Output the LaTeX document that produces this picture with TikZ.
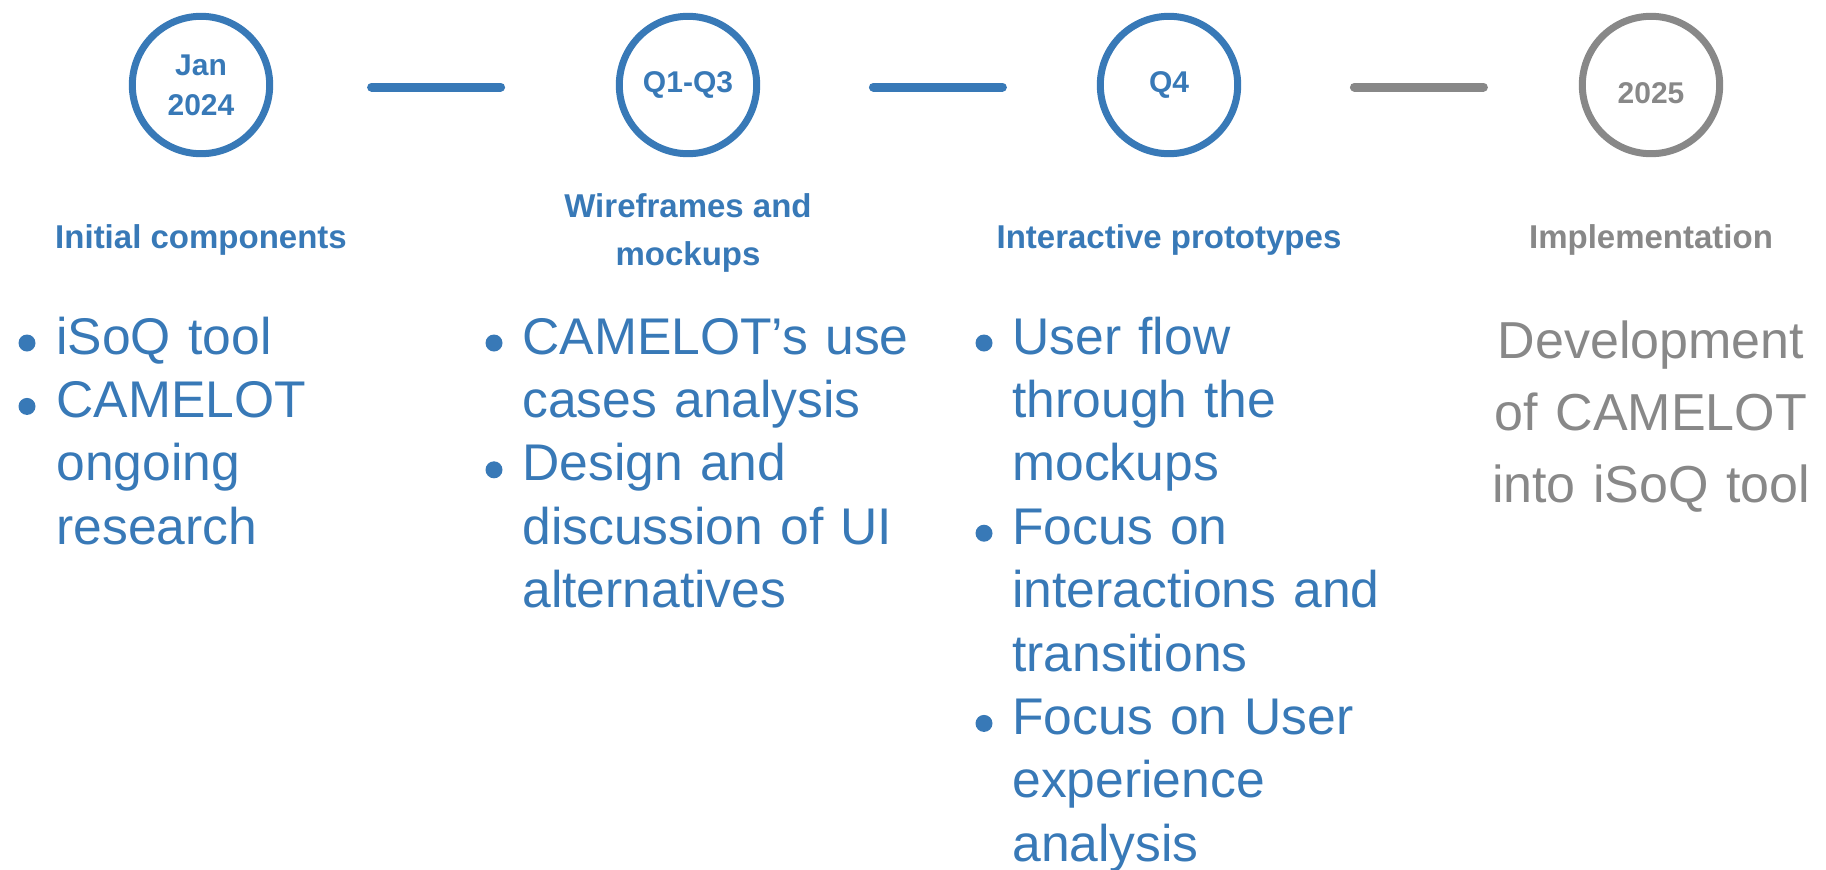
\documentclass[tikz,border=0pt]{standalone}
\usepackage{fontspec}
\setmainfont{Liberation Sans}
\definecolor{planblue}{RGB}{56,121,183}
\definecolor{plangray}{RGB}{136,136,136}

\begin{document}
\begin{tikzpicture}[x=0.5pt, y=-0.5pt,
    milestone/.style={circle, draw=#1, line width=3.5pt, minimum size=68.7pt, inner sep=0pt,
      text=#1, font=\fontsize{15}{20}\selectfont\bfseries, align=center},
    link/.style={draw=#1, line width=4.5pt, line cap=round, transform canvas={yshift=-1pt}},
    phase/.style={text=#1, font=\fontsize{16.5}{24}\selectfont\bfseries, align=center, inner sep=0pt},
    item/.style={anchor=base west, inner sep=0pt, text width=200pt, align=left,
      text=planblue, font=\fontsize{25.8}{31.7}\selectfont},
    dot/.style={circle, fill=planblue, minimum size=8.5pt, inner sep=0pt}]
  \useasboundingbox (0,0) rectangle (1826,869);

  % Milestones on the time line
  \node[milestone=planblue] (jan) at (201,85) {Jan\\2024};
  \node[milestone=planblue] (qone) at (688,85) {Q1-Q3};
  \node[milestone=planblue] (qfour) at (1169,85) {Q4};
  \node[milestone=plangray] (next) at (1651,85) {\raisebox{-9.4pt}[0pt][0pt]{2025}};

  % Links between milestones
  \draw[link=planblue, shorten <=49.2pt, shorten >=57.6pt] (jan) -- (qone);
  \draw[link=planblue, shorten <=56.6pt, shorten >=47.2pt] (qone) -- (qfour);
  \draw[link=plangray, shorten <=56.6pt, shorten >=47.7pt] (qfour) -- (next);

  % Phase titles
  \node[phase=planblue] (tinit) at (201,239.5) {Initial components};
  \node[phase=planblue] (twire) at (688,232.5) {Wireframes and\\mockups};
  \node[phase=planblue] (tproto) at (1169,239.5) {Interactive prototypes};
  \node[phase=plangray] (timpl) at (1651,239.5) {Implementation};

  % Bullet items
  \node[item] (ia) at (56,354) {iSoQ tool};
  \node[item] (ib) at (56,417.4) {CAMELOT\\ongoing\\research};
  \node[item] (wa) at (522,354) {CAMELOT’s use\\cases analysis};
  \node[item] (wb) at (522,480.8) {Design and\\discussion of UI\\alternatives};
  \node[item] (pa) at (1012,354) {User flow\\through the\\mockups};
  \node[item] (pb) at (1012,544.2) {Focus on\\interactions and\\transitions};
  \node[item] (pc) at (1012,734.4) {Focus on User\\experience\\analysis};

  \node[dot] (dia) at (27,343) {};
  \node[dot] (dib) at (27,406.4) {};
  \node[dot] (dwa) at (494,343) {};
  \node[dot] (dwb) at (494,469.8) {};
  \node[dot] (dpa) at (984,343) {};
  \node[dot] (dpb) at (984,533.2) {};
  \node[dot] (dpc) at (984,723.4) {};

  % Last phase text
  \node[anchor=base, inner sep=0pt, text width=170pt, align=center, text=plangray,
    font=\fontsize{26}{36.15}\selectfont] (dev) at (1651,358)
    {Development\\of CAMELOT\\into iSoQ tool};
\end{tikzpicture}
\end{document}
